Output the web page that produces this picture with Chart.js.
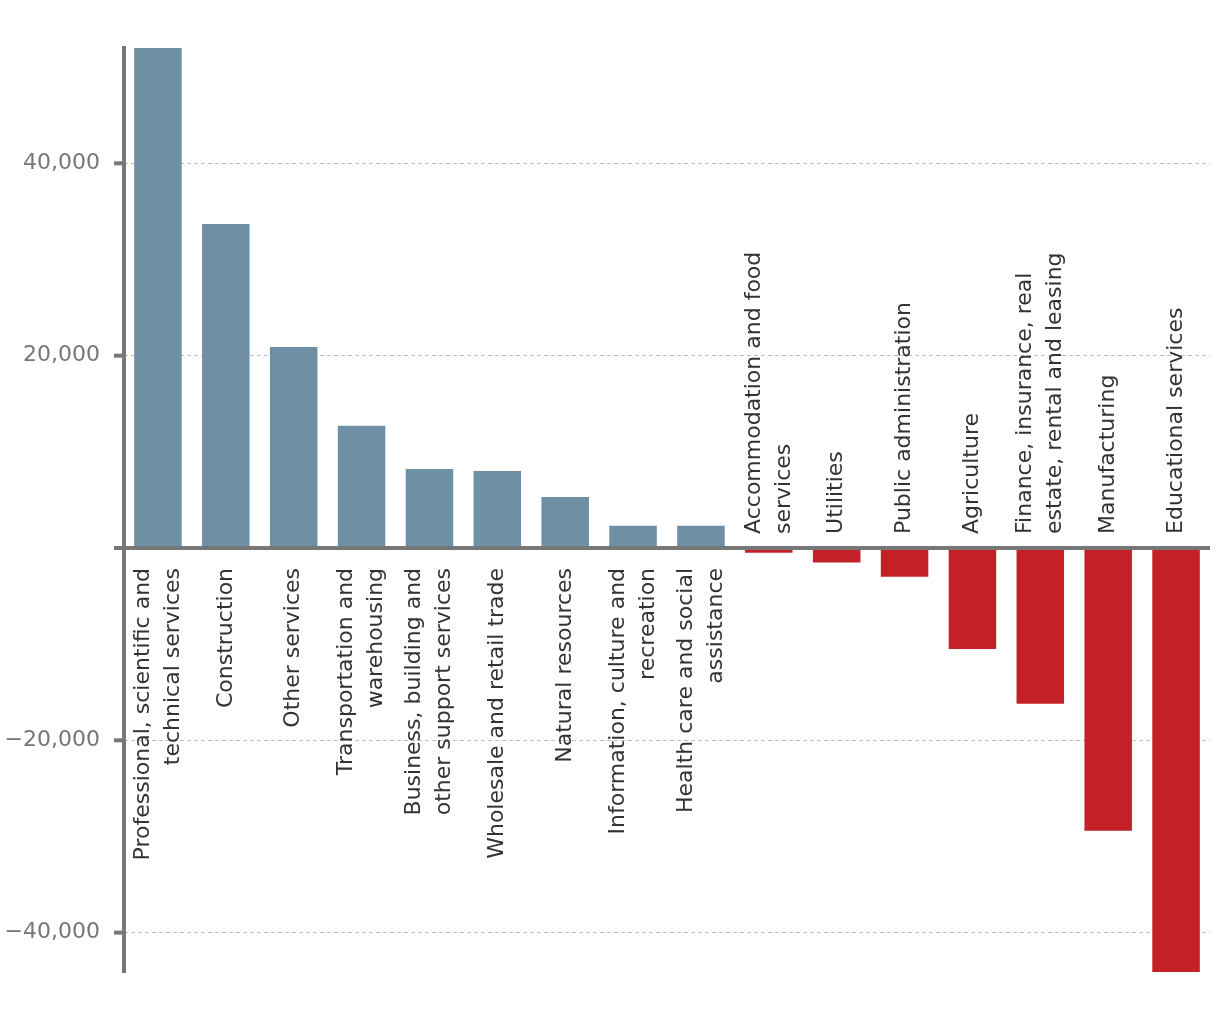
<!DOCTYPE html>
<html>
<head>
<meta charset="utf-8">
<script src="https://cdn.jsdelivr.net/npm/chart.js@4.4.0/dist/chart.umd.min.js"></script>
<style>
  html, body { margin: 0; padding: 0; background: #fff; }
  #wrap { width: 1220px; height: 1020px; }
</style>
</head>
<body>
<div id="wrap"><canvas id="myChart" width="1220" height="1020"></canvas></div>
<script>
// Industry categories (multi-line labels as arrays)
const categories = [
  ['Professional, scientific and', 'technical services'],
  ['Construction'],
  ['Other services'],
  ['Transportation and', 'warehousing'],
  ['Business, building and', 'other support services'],
  ['Wholesale and retail trade'],
  ['Natural resources'],
  ['Information, culture and', 'recreation'],
  ['Health care and social', 'assistance'],
  ['Accommodation and food', 'services'],
  ['Utilities'],
  ['Public administration'],
  ['Agriculture'],
  ['Finance, insurance, real', 'estate, rental and leasing'],
  ['Manufacturing'],
  ['Educational services']
];

// Change in employment
const changes = [52000, 33700, 20900, 12700, 8200, 8000, 5300, 2300, 2300,
  -500, -1500, -3000, -10500, -16200, -29400, -44100];

// Y axis range and tick values
const yMin = -44200;
const yMax = 52200;
const yTicks = [-40000, -20000, 0, 20000, 40000];

const positiveColor = '#6f8fa5';
const negativeColor = '#c32127';
const axisColor = '#777777';
const labelFont = '22px "DejaVu Sans"';

const formatTick = (v) => {
  if (v === 0) return '';
  const s = Math.abs(v).toLocaleString('en-US');
  return v < 0 ? '\u2212' + s : s;
};

// Draws the y axis line, tick marks and zero line
const axisPlugin = {
  id: 'axisLines',
  afterDatasetsDraw(chart) {
    const { ctx, chartArea, scales } = chart;
    const y = scales.y;
    const x0 = chartArea.left;
    ctx.save();
    ctx.strokeStyle = axisColor;
    ctx.lineWidth = 4;
    ctx.beginPath();
    ctx.moveTo(x0, chartArea.top);
    ctx.lineTo(x0, chartArea.bottom);
    ctx.stroke();
    y.ticks.forEach(t => {
      const py = y.getPixelForValue(t.value);
      ctx.beginPath();
      ctx.moveTo(x0 - 10, py);
      ctx.lineTo(t.value === 0 ? chartArea.right : x0, py);
      ctx.stroke();
    });
    ctx.restore();
  }
};

// Draws rotated category labels next to the zero line
const labelPlugin = {
  id: 'catLabels',
  afterDatasetsDraw(chart) {
    const { ctx, scales } = chart;
    const zeroY = scales.y.getPixelForValue(0);
    const lineH = 30;
    ctx.save();
    ctx.font = labelFont;
    ctx.fillStyle = '#333333';
    ctx.textBaseline = 'middle';
    categories.forEach((lines, i) => {
      const px = scales.x.getPixelForValue(i);
      const positive = changes[i] >= 0;
      ctx.save();
      ctx.translate(px, positive ? zeroY + 20 : zeroY - 14);
      ctx.rotate(-Math.PI / 2);
      ctx.textAlign = positive ? 'right' : 'left';
      const offset = (lines.length - 1) * lineH / 2;
      lines.forEach((line, j) => {
        ctx.fillText(line, 0, j * lineH - offset);
      });
      ctx.restore();
    });
    ctx.restore();
  }
};

const ctx = document.getElementById('myChart').getContext('2d');
new Chart(ctx, {
  type: 'bar',
  data: {
    labels: categories,
    datasets: [{
      data: changes,
      backgroundColor: (c) => (changes[c.dataIndex] >= 0 ? positiveColor : negativeColor),
      barPercentage: 0.7,
      categoryPercentage: 1.0,
      borderWidth: 0
    }]
  },
  options: {
    responsive: false,
    animation: false,
    layout: { padding: { left: 0, right: 10, top: 46, bottom: 47 } },
    plugins: {
      legend: { display: false },
      tooltip: { enabled: false }
    },
    scales: {
      x: {
        display: false
      },
      y: {
        min: yMin,
        max: yMax,
        afterFit: (s) => { s.width = 124; },
        afterBuildTicks: (s) => { s.ticks = yTicks.map(v => ({ value: v })); },
        ticks: {
          padding: 24,
          color: axisColor,
          font: { family: 'DejaVu Sans', size: 22 },
          callback: formatTick
        },
        grid: {
          drawTicks: false,
          lineWidth: 1,
          color: (c) => (c.tick && c.tick.value === 0 ? 'rgba(0,0,0,0)' : '#b4bec6')
        },
        border: { display: false, dash: [4, 3] }
      }
    }
  },
  plugins: [axisPlugin, labelPlugin]
});
</script>
</body>
</html>
